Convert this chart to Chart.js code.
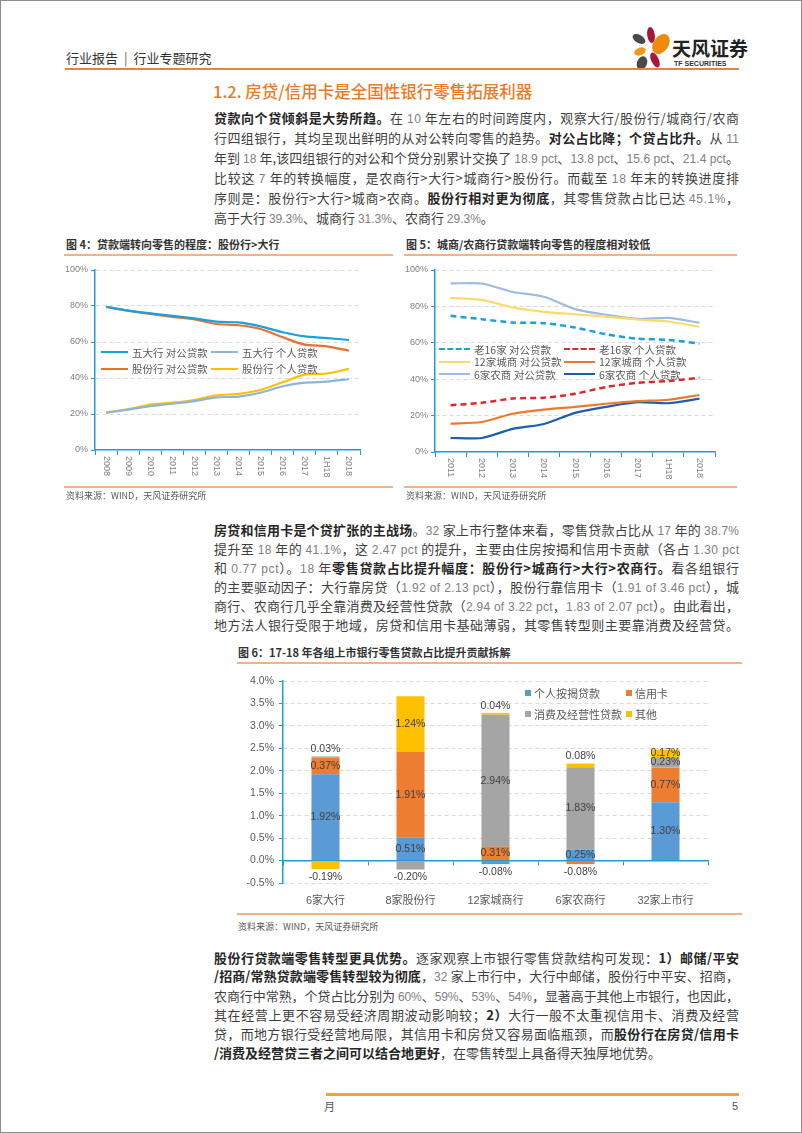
<!DOCTYPE html>
<html lang="zh-CN">
<head>
<meta charset="utf-8">
<title>房贷/信用卡是全国性银行零售拓展利器</title>
<script src="https://cdn.jsdelivr.net/npm/chart.js@4.4.1/dist/chart.umd.min.js"></script>
<style>
  html, body { margin: 0; padding: 0; background: #fff; }
  #page { position: relative; width: 802px; height: 1133px; box-sizing: border-box; border: 1px solid #8c8c8c;
          overflow: hidden; font-family: "Noto Sans CJK SC", "Noto Sans", sans-serif; color: #3f3f3f; }
  .abs { position: absolute; white-space: nowrap; }
  .rule { position: absolute; }
  .hdr { left: 65px; top: 48px; font-size: 13px; line-height: 18px; color: #333; }
  .hdr i { font-style: normal; display: inline-block; margin: 0 6px; color: #666; }
  .title { left: 212px; top: 79px; font-size: 16.5px; line-height: 22px; color: #EC7A23; font-weight: 500; }
  .para { position: absolute; left: 213px; width: 525px; font-size: 13px; }
  .ln { white-space: nowrap; }
  .para b { color: #262626; font-weight: 700; }
  .n { font-family: "Liberation Sans", Arial, sans-serif; font-size: 12px; color: #808080; }
  .ftitle { font-size: 11px; line-height: 14px; font-weight: 700; color: #333; }
  .src { font-size: 9px; line-height: 12px; color: #595959; }
  canvas { position: absolute; }
  .lg { position: absolute; display: flex; align-items: center; height: 14px; font-size: 10.5px; color: #595959; white-space: nowrap; }
  .sw { display: inline-block; height: 0; margin-right: 4px; }
  .sq { display: inline-block; width: 6px; height: 6px; margin-right: 3px; }
</style>
</head>
<body>
<div id="page">
  <div class="abs hdr">行业报告<i>|</i>行业专题研究</div>
  <svg class="abs" style="left:630px;top:26px" width="40" height="44" viewBox="0 0 40 44">
    <ellipse cx="20" cy="8" rx="3.8" ry="8" fill="#A8173B" transform="rotate(-8 20 8)"/>
    <ellipse cx="8" cy="12" rx="7" ry="4" fill="#4A4A4A" transform="rotate(30 8 12)"/>
    <ellipse cx="30" cy="17" rx="7.5" ry="11" fill="#EF8A0C" transform="rotate(35 30 17)"/>
    <ellipse cx="9" cy="24.5" rx="6" ry="3.8" fill="#F09A1A" transform="rotate(-20 9 24.5)"/>
    <ellipse cx="24" cy="33" rx="3.8" ry="8" fill="#A8173B" transform="rotate(-25 24 33)"/>
    <ellipse cx="11" cy="36" rx="5" ry="7" fill="#4A4A4A" transform="rotate(20 11 36)"/>
  </svg>
  <div class="abs" style="left:671px;top:35px;font-size:19px;line-height:24px;font-weight:700;color:#222">天风证券</div>
  <div class="abs" style="left:673px;top:58px;font-size:7px;line-height:9px;font-weight:700;color:#333;font-family:'Liberation Sans',sans-serif">TF SECURITIES</div>
  <div class="rule" style="left:64px;top:67px;width:674px;height:2px;background:#E9823A"></div>

  <div class="abs title">1.2. 房贷/信用卡是全国性银行零售拓展利器</div>

  <div class="para" style="top:108px;line-height:18.9px">
    <div class="ln j"><b>贷款向个贷倾斜是大势所趋。</b>在 10 年左右的时间跨度内，观察大行/股份行/城商行/农商</div>
    <div class="ln j">行四组银行，其均呈现出鲜明的从对公转向零售的趋势。<b>对公占比降；个贷占比升。</b>从 11</div>
    <div class="ln j">年到 18 年,该四组银行的对公和个贷分别累计交换了 18.9 pct、13.8 pct、15.6 pct、21.4 pct。</div>
    <div class="ln j">比较这 7 年的转换幅度，是农商行&gt;大行&gt;城商行&gt;股份行。而截至 18 年末的转换进度排</div>
    <div class="ln j">序则是：股份行&gt;大行&gt;城商&gt;农商。<b>股份行相对更为彻底</b>，其零售贷款占比已达 45.1%，</div>
    <div class="ln">高于大行 39.3%、城商行 31.3%、农商行 29.3%。</div>
  </div>

  <div class="abs ftitle" style="left:65px;top:236px">图 4：贷款端转向零售的程度：股份行&gt;大行</div>
  <div class="rule" style="left:63px;top:253px;width:329px;height:1.5px;background:#F4B183"></div>
  <div class="abs ftitle" style="left:405px;top:236px">图 5：城商/农商行贷款端转向零售的程度相对较低</div>
  <div class="rule" style="left:403px;top:253px;width:333px;height:1.5px;background:#F4B183"></div>

  <canvas id="c4" width="335" height="228" style="left:60px;top:258px"></canvas>
  <canvas id="c5" width="335" height="228" style="left:400px;top:258px"></canvas>
  <div id="lg4"></div>
  <div id="lg5"></div>

  <div class="rule" style="left:63px;top:485px;width:329px;height:1.5px;background:#F4B183"></div>
  <div class="rule" style="left:403px;top:485px;width:333px;height:1.5px;background:#F4B183"></div>
  <div class="abs src" style="left:65px;top:489px">资料来源：WIND，天风证券研究所</div>
  <div class="abs src" style="left:405px;top:489px">资料来源：WIND，天风证券研究所</div>

  <div class="para" style="top:520px;line-height:18px">
    <div class="ln j"><b>房贷和信用卡是个贷扩张的主战场</b>。32 家上市行整体来看，零售贷款占比从 17 年的 38.7%</div>
    <div class="ln j">提升至 18 年的 41.1%，这 2.47 pct 的提升，主要由住房按揭和信用卡贡献（各占 1.30 pct</div>
    <div class="ln j">和 0.77 pct）。18 年<b>零售贷款占比提升幅度：股份行&gt;城商行&gt;大行&gt;农商行。</b>看各组银行</div>
    <div class="ln j">的主要驱动因子：大行靠房贷（1.92 of 2.13 pct），股份行靠信用卡（1.91 of 3.46 pct），城</div>
    <div class="ln j">商行、农商行几乎全靠消费及经营性贷款（2.94 of 3.22 pct，1.83 of 2.07 pct）。由此看出，</div>
    <div class="ln j">地方法人银行受限于地域，房贷和信用卡基础薄弱，其零售转型则主要靠消费及经营贷。</div>
  </div>

  <div class="abs ftitle" style="left:237px;top:644px">图 6：17-18 年各组上市银行零售贷款占比提升贡献拆解</div>
  <div class="rule" style="left:236px;top:661px;width:505px;height:1.5px;background:#F4B183"></div>
  <canvas id="c6" width="520" height="245" style="left:225px;top:665px"></canvas>
  <div id="lg6"></div>
  <div class="rule" style="left:236px;top:912px;width:505px;height:1.5px;background:#F4B183"></div>
  <div class="abs src" style="left:237px;top:920px">资料来源：WIND，天风证券研究所</div>

  <div class="para" style="top:947.7px;line-height:18.6px">
    <div class="ln j"><b>股份行贷款端零售转型更具优势。</b>逐家观察上市银行零售贷款结构可发现：<b>1）邮储/平安</b></div>
    <div class="ln j"><b>/招商/常熟贷款端零售转型较为彻底</b>，32 家上市行中，大行中邮储，股份行中平安、招商，</div>
    <div class="ln j">农商行中常熟，个贷占比分别为 60%、59%、53%、54%，显著高于其他上市银行，也因此，</div>
    <div class="ln j">其在经营上更不容易受经济周期波动影响较；<b>2）</b>大行一般不太重视信用卡、消费及经营</div>
    <div class="ln j">贷，而地方银行受经营地局限，其信用卡和房贷又容易面临瓶颈，而<b>股份行在房贷/信用卡</b></div>
    <div class="ln"><b>/消费及经营贷三者之间可以结合地更好</b>，在零售转型上具备得天独厚地优势。</div>
  </div>

  <div class="rule" style="left:325px;top:1092px;width:413px;height:3px;background:#EFA52F"></div>
  <div class="abs" style="left:323px;top:1098px;font-size:11px;line-height:14px;color:#555">月</div>
  <div class="abs" style="left:731px;top:1098px;font-size:11px;line-height:14px;color:#555;font-family:'Liberation Sans',sans-serif">5</div>
</div>

<script>
// 图4 数据
const years4 = ["2008", "2009", "2010", "2011", "2012", "2013", "2014", "2015", "2016", "2017", "1H18", "2018"];
const bigCorp = [79.6, 77.4, 75.9, 74.6, 73.1, 71.3, 70.9, 68.7, 65.4, 63.1, 62.2, 61.1];
const bigRetail = [20.7, 22.4, 24.4, 25.7, 27.2, 29.2, 29.7, 31.8, 35.4, 37.4, 38.0, 39.3];
const jointCorp = [79.5, 77.4, 75.6, 74.0, 72.6, 70.0, 69.3, 67.2, 62.6, 58.5, 57.6, 55.2];
const jointRetail = [20.8, 22.7, 25.2, 26.3, 27.8, 30.4, 31.2, 33.3, 37.6, 41.9, 42.5, 45.1];

// 图5 数据
const years5 = ["2011", "2012", "2013", "2014", "2015", "2016", "2017", "1H18", "2018"];
const old16Corp = [74.8, 73.0, 71.1, 70.8, 68.4, 64.7, 62.3, 61.6, 59.6];
const old16Retail = [25.7, 27.0, 29.4, 29.8, 32.0, 35.7, 38.0, 39.0, 40.8];
const city12Corp = [84.7, 83.6, 79.4, 77.0, 75.7, 74.3, 72.8, 71.7, 68.8];
const city12Retail = [15.6, 16.5, 21.0, 23.3, 24.8, 26.5, 27.9, 28.7, 31.3];
const rural6Corp = [92.6, 92.6, 87.9, 85.3, 78.5, 75.4, 73.2, 73.7, 71.0];
const rural6Retail = [7.7, 7.7, 12.7, 15.4, 21.5, 24.8, 27.4, 26.8, 29.3];

// 图6 数据 (%)
const banks = ["6家大行", "8家股份行", "12家城商行", "6家农商行", "32家上市行"];
const mortgage = [1.92, 0.51, -0.08, 0.25, 1.30];
const card = [0.37, 1.91, 0.31, -0.08, 0.77];
const consumer = [0.03, -0.20, 2.94, 1.83, 0.23];
const others = [-0.19, 1.24, 0.04, 0.08, 0.17];

const axisBlue = "#1F9BD8";
Chart.defaults.font.family = '"Liberation Sans", "Noto Sans CJK SC", sans-serif';

// x轴竖排标签（从上往下读）
const vLabels = {
  id: "vLabels",
  afterDraw(chart) {
    const sc = chart.scales.x;
    const ctx = chart.ctx;
    ctx.save();
    ctx.font = '9px "Liberation Sans", sans-serif';
    ctx.fillStyle = "#7f7f7f";
    ctx.textAlign = "left";
    ctx.textBaseline = "middle";
    sc.ticks.forEach((t, i) => {
      ctx.save();
      ctx.translate(sc.getPixelForTick(i), sc.top + 6);
      ctx.rotate(Math.PI / 2);
      ctx.fillText(chart.data.labels[i], 0, 0);
      ctx.restore();
    });
    ctx.restore();
  }
};

const lineOptions = (yWidth, padRight, xHeight) => ({
  responsive: false,
  animation: false,
  layout: { padding: { top: 11, right: padRight, left: 0, bottom: 0 } },
  plugins: { legend: { display: false }, tooltip: { enabled: false } },
  elements: { point: { radius: 0 }, line: { tension: 0.25 } },
  scales: {
    x: {
      offset: true,
      grid: { offset: true, drawOnChartArea: false, color: axisBlue, tickLength: 5 },
      border: { color: axisBlue, width: 1.5 },
      ticks: { color: "transparent", minRotation: 90, maxRotation: 90, autoSkip: false, font: { size: 9 } },
      afterFit: (s) => { s.height = xHeight; }
    },
    y: {
      min: 0,
      max: 100,
      ticks: { stepSize: 20, callback: (v) => v + "%", color: "#7f7f7f", font: { size: 9 }, padding: 3 },
      grid: { color: (c) => (c.tick && c.tick.value === 0 ? "transparent" : "#d9d9d9"), tickColor: axisBlue, tickLength: 4 },
      border: { color: axisBlue, width: 1.5, dash: [4, 3] },
      afterFit: (s) => { s.width = yWidth; }
    }
  }
});

const line = (label, data, color, dashed) => ({
  label,
  data,
  borderColor: color,
  backgroundColor: color,
  borderWidth: dashed ? 2.5 : 2.2,
  borderDash: dashed ? [6, 4] : undefined,
  fill: false
});

const chart4 = new Chart(document.getElementById("c4"), {
  type: "line",
  data: {
    labels: years4,
    datasets: [
      line("五大行 对公贷款", bigCorp, "#16A2DC"),
      line("五大行 个人贷款", bigRetail, "#8EB4DC"),
      line("股份行 对公贷款", jointCorp, "#E9702D"),
      line("股份行 个人贷款", jointRetail, "#FFC000")
    ]
  },
  options: lineOptions(34, 36, 37),
  plugins: [vLabels]
});

const chart5 = new Chart(document.getElementById("c5"), {
  type: "line",
  data: {
    labels: years5,
    datasets: [
      line("老16家 对公贷款", old16Corp, "#1AA0DB", true),
      line("老16家 个人贷款", old16Retail, "#E3262B", true),
      line("12家城商 对公贷款", city12Corp, "#FFD966"),
      line("12家城商 个人贷款", city12Retail, "#EB7A2F"),
      line("6家农商 对公贷款", rural6Corp, "#9CBCE2"),
      line("6家农商 个人贷款", rural6Retail, "#1D5FAE")
    ]
  },
  options: lineOptions(34, 21, 35),
  plugins: [vLabels]
});

// 柱子上的数值标签
const barLabels = {
  id: "barLabels",
  afterDatasetsDraw(chart) {
    const ctx = chart.ctx;
    ctx.save();
    ctx.font = '10.5px "Liberation Sans", sans-serif';
    ctx.fillStyle = "#404040";
    ctx.textAlign = "center";
    ctx.textBaseline = "middle";
    chart.data.datasets.forEach((ds, di) => {
      chart.getDatasetMeta(di).data.forEach((bar, i) => {
        const v = ds.data[i];
        let y;
        if (v < 0) y = Math.max(bar.y, bar.base) + 8;
        else if (v < 0.1) y = Math.min(bar.y, bar.base) - 7;
        else y = (bar.y + bar.base) / 2;
        ctx.fillText(v.toFixed(2) + "%", bar.x, y);
      });
    });
    ctx.restore();
  }
};

const bar = (label, data, color) => ({ label, data, backgroundColor: color, barPercentage: 0.33, categoryPercentage: 1 });

const chart6 = new Chart(document.getElementById("c6"), {
  type: "bar",
  data: {
    labels: banks,
    datasets: [
      bar("个人按揭贷款", mortgage, "#5B9BD5"),
      bar("信用卡", card, "#ED7D31"),
      bar("消费及经营性贷款", consumer, "#A5A5A5"),
      bar("其他", others, "#FFC000")
    ]
  },
  options: {
    responsive: false,
    animation: false,
    layout: { padding: { top: 15, right: 38, left: 0, bottom: 0 } },
    plugins: { legend: { display: false }, tooltip: { enabled: false } },
    scales: {
      x: {
        axis: "x",
        stacked: true,
        position: { y: 0 },
        offset: true,
        grid: { offset: true, drawOnChartArea: false, color: axisBlue, tickLength: 4 },
        border: { color: axisBlue, width: 1.5 },
        ticks: { display: false }
      },
      xl: {
        axis: "x",
        type: "category",
        labels: banks,
        position: "bottom",
        offset: true,
        grid: { display: false },
        border: { display: false },
        ticks: { color: "#595959", font: { size: 11 }, padding: 3 },
        afterFit: (s) => { s.height = 28; }
      },
      y: {
        stacked: true,
        min: -0.5,
        max: 4.0,
        ticks: { stepSize: 0.5, callback: (v) => v.toFixed(1) + "%", color: "#595959", font: { size: 10.5 }, padding: 5 },
        grid: { color: (c) => (c.tick && Math.abs(c.tick.value) < 1e-9 ? "transparent" : "#d9d9d9"), tickColor: axisBlue, tickLength: 4 },
        border: { color: axisBlue, width: 1.5, dash: [4, 3] },
        afterFit: (s) => { s.width = 57; }
      }
    }
  },
  plugins: [barLabels]
});

// 图例（HTML，取自各数据集）
const lineLegend = (chart, boxId, left, top, colGap, rowGap, lineLen) => {
  const box = document.getElementById(boxId);
  chart.data.datasets.forEach((ds, i) => {
    const item = document.createElement("div");
    item.className = "lg";
    item.style.left = left + (i % 2) * colGap + "px";
    item.style.top = top + Math.floor(i / 2) * rowGap - 7 + "px";
    const sw = document.createElement("span");
    sw.className = "sw";
    sw.style.width = lineLen + "px";
    sw.style.borderTop = ds.borderWidth + "px " + (ds.borderDash ? "dashed" : "solid") + " " + ds.borderColor;
    item.appendChild(sw);
    item.appendChild(document.createTextNode(ds.label));
    box.appendChild(item);
  });
};
lineLegend(chart4, "lg4", 100, 351, 110, 16.5, 27);
lineLegend(chart5, "lg5", 438, 348.3, 125, 12.5, 31);

const lg6 = document.getElementById("lg6");
chart6.data.datasets.forEach((ds, i) => {
  const item = document.createElement("div");
  item.className = "lg";
  item.style.fontSize = "11px";
  item.style.left = 524 + (i % 2) * 101 + "px";
  item.style.top = 692 + Math.floor(i / 2) * 21 - 7 + "px";
  const sq = document.createElement("span");
  sq.className = "sq";
  sq.style.background = ds.backgroundColor;
  item.appendChild(sq);
  item.appendChild(document.createTextNode(ds.label));
  lg6.appendChild(item);
});

// 正文：数字用浅色西文字体，两端对齐
document.querySelectorAll(".ln").forEach((ln) => {
  const walker = document.createTreeWalker(ln, NodeFilter.SHOW_TEXT);
  const nodes = [];
  while (walker.nextNode()) {
    if (walker.currentNode.parentNode.tagName !== "B") nodes.push(walker.currentNode);
  }
  nodes.forEach((node) => {
    const html = node.textContent
      .replace(/&/g, "&amp;").replace(/</g, "&lt;").replace(/>/g, "&gt;")
      .replace(/\d[\d.]*%?(?:\s*of\s*\d[\d.]*)?(?:\s*pct)?/g, (m) => '<span class="n">' + m + "</span>");
    const span = document.createElement("span");
    span.innerHTML = html;
    node.parentNode.replaceChild(span, node);
  });
});

const justify = () => {
  document.querySelectorAll(".ln.j").forEach((ln) => {
    ln.style.letterSpacing = "0px";
    const r = document.createRange();
    r.selectNodeContents(ln);
    const w = r.getBoundingClientRect().width;
    const n = ln.textContent.length;
    ln.style.letterSpacing = (525 - w) / (n - 1) + "px";
  });
};
justify();
if (document.fonts && document.fonts.ready) document.fonts.ready.then(justify);
</script>
</body>
</html>
